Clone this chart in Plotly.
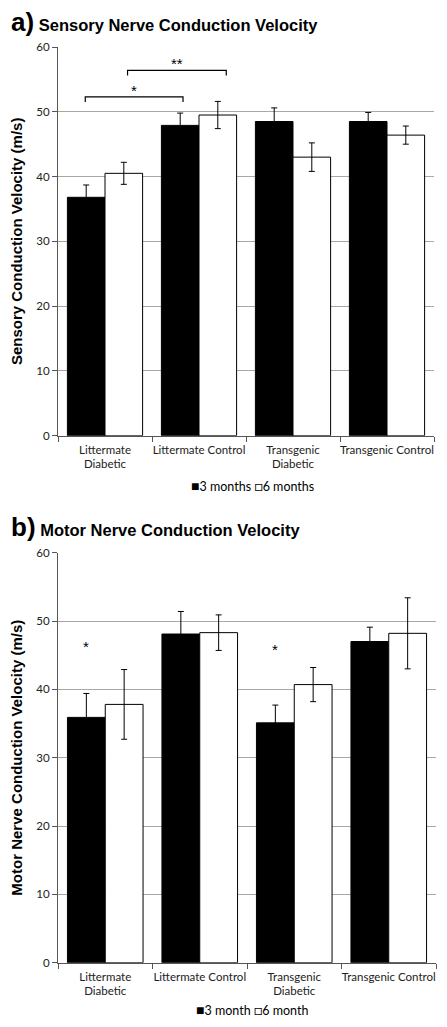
import plotly.graph_objects as go

categories = ["Littermate<br>Diabetic", "Littermate Control", "Transgenic<br>Diabetic", "Transgenic Control"]

# Panel a: sensory NCV (m/s)
sensory_3m = [36.8, 47.9, 48.5, 48.5]
sensory_3m_err = [1.9, 1.9, 2.1, 1.4]
sensory_6m = [40.5, 49.5, 43.0, 46.4]
sensory_6m_err = [1.7, 2.1, 2.2, 1.4]

# Panel b: motor NCV (m/s)
motor_3m = [35.9, 48.1, 35.1, 47.0]
motor_3m_err = [3.5, 3.3, 2.6, 2.1]
motor_6m = [37.8, 48.3, 40.7, 48.2]
motor_6m_err = [5.1, 2.6, 2.5, 5.2]

y_ticks = [0, 10, 20, 30, 40, 50, 60]

# significance brackets for panel a: (x_start, x_end, y_level, label)
sensory_brackets = [(-0.21, 0.83, 52.3, "*"), (0.24, 1.29, 56.4, "**")]
# significance stars for panel b: (x, y, label)
motor_stars = [(-0.2, 46.3, "*"), (1.8, 45.9, "*")]

TICKFONT = dict(family="Lato, Liberation Sans", size=11.5, color="#222")
OFF = 8                      # page body margin
W, H = 447 - 2 * OFF, 1027 - 2 * OFF

fig = go.Figure()

def add_panel(v3, e3, v6, e6, xa, ya, n3, n6):
    fig.add_trace(go.Bar(x=categories, y=v3, name=n3, xaxis=xa, yaxis=ya,
                         marker=dict(color="black", line=dict(color="black", width=1)),
                         error_y=dict(type="data", array=e3, color="black", thickness=1, width=3),
                         showlegend=False))
    fig.add_trace(go.Bar(x=categories, y=v6, name=n6, xaxis=xa, yaxis=ya,
                         marker=dict(color="white", line=dict(color="black", width=1)),
                         error_y=dict(type="data", array=e6, color="black", thickness=1, width=3),
                         showlegend=False))

add_panel(sensory_3m, sensory_3m_err, sensory_6m, sensory_6m_err, "x", "y", "3 months", "6 months")
add_panel(motor_3m, motor_3m_err, motor_6m, motor_6m_err, "x2", "y2", "3 month", "6 month")

def py(px):
    return (H - (px - OFF)) / H

def pxx(px):
    return (px - OFF) / W

xcommon = dict(type="category", tickson="boundaries", ticks="outside", ticklen=5,
               tickcolor="#555", showline=True, linecolor="#555", linewidth=1,
               showgrid=False, tickfont=TICKFONT, ticklabelstandoff=3, tickangle=0,
               automargin=False)
ycommon = dict(range=[0, 60], tickvals=y_ticks, ticks="outside", ticklen=5, tickcolor="#555",
               showline=True, linecolor="#555", linewidth=1, showgrid=True,
               gridcolor="#a8a8a8", gridwidth=1, zeroline=False, tickfont=TICKFONT,
               automargin=False)

fig.update_layout(
    width=W, height=H,
    margin=dict(l=0, r=0, t=0, b=0, pad=0),
    plot_bgcolor="white", paper_bgcolor="white",
    barmode="group", bargap=0.2, bargroupgap=0,
    xaxis=dict(domain=[pxx(58), pxx(434)], anchor="y", **xcommon),
    yaxis=dict(domain=[py(435.7), py(47)], anchor="x",
               title=dict(text="<b>Sensory Conduction Velocity (m/s)</b>",
                          font=dict(family="Liberation Sans", size=15, color="black"), standoff=15),
               **ycommon),
    xaxis2=dict(domain=[pxx(58), pxx(436)], anchor="y2", **xcommon),
    yaxis2=dict(domain=[py(962.7), py(552.7)], anchor="x2",
                title=dict(text="<b>Motor Nerve Conduction Velocity (m/s)</b>",
                           font=dict(family="Liberation Sans", size=15, color="black"), standoff=15),
                **ycommon),
)

annotations = []
shapes = []

# panel titles
for label, title, ypx in [("a)", "Sensory Nerve Conduction Velocity", 22),
                          ("b)", "Motor Nerve Conduction Velocity", 527)]:
    annotations.append(dict(
        text=f"<b><span style='font-size:26px'>{label}</span> {title}</b>",
        x=pxx(9), y=py(ypx), xref="paper", yref="paper", xanchor="left", yanchor="middle",
        showarrow=False, font=dict(family="Liberation Sans", size=16.5, color="black")))

# legends
for n3, n6, ypx in [("3 months", "6 months", 486), ("3 month", "6 month", 1009.5)]:
    txt = (f"<span style='font-size:14px'>■</span>{n3} "
           f"<span style='font-size:14px'>□</span>{n6}")
    annotations.append(dict(text=txt, x=pxx(252), y=py(ypx), xref="paper", yref="paper",
                            xanchor="center", yanchor="middle", showarrow=False,
                            font=dict(family="Lato, Liberation Sans", size=12.5, color="black")))

# brackets panel a
for x0, x1, yl, lab in sensory_brackets:
    shapes.append(dict(type="path", xref="x", yref="y",
                       path=f"M {x0},{yl-0.8} L {x0},{yl} L {x1},{yl} L {x1},{yl-0.8}",
                       line=dict(color="black", width=1.2)))
    annotations.append(dict(text=lab, x=(x0 + x1) / 2, y=yl - 0.6, xref="x", yref="y",
                            yanchor="bottom", showarrow=False,
                            font=dict(family="Liberation Sans", size=15, color="black")))

# stars panel b
for xs, ys, lab in motor_stars:
    annotations.append(dict(text=lab, x=xs, y=ys, xref="x2", yref="y2", yanchor="middle",
                            showarrow=False,
                            font=dict(family="Liberation Sans", size=15, color="black")))

fig.update_layout(annotations=annotations, shapes=shapes)
fig.write_html("out.html")
